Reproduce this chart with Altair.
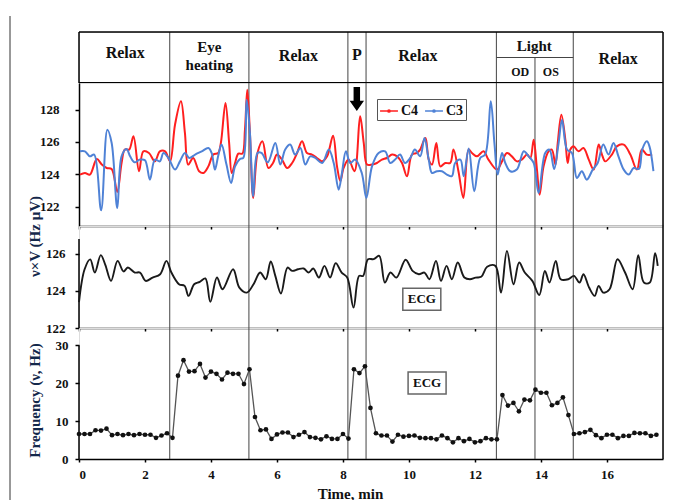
import altair as alt
import pandas as pd

FONT = "Liberation Serif"

# ---------------- data ----------------
c4_t = [0.03, 0.18, 0.33, 0.54, 0.69, 0.84, 0.99, 1.16, 1.29, 1.39, 1.52, 1.65, 1.82, 1.95, 2.12, 2.30, 2.45, 2.61,
        2.76, 2.91, 3.09, 3.21, 3.31, 3.46, 3.64, 3.77, 3.92, 4.07, 4.22, 4.30, 4.44, 4.55, 4.63, 4.73, 4.83, 4.95,
        5.03, 5.10, 5.18, 5.28, 5.41, 5.56, 5.74, 5.88, 6.00, 6.15, 6.31, 6.46, 6.61, 6.76, 6.91, 7.06, 7.21, 7.37,
        7.52, 7.70, 7.82, 7.92, 8.02, 8.17, 8.35, 8.52, 8.63, 8.73, 8.88, 9.03, 9.18, 9.33, 9.49, 9.64, 9.79, 9.94,
        10.09, 10.24, 10.34, 10.50, 10.60, 10.70, 10.83, 10.95, 11.10, 11.25, 11.35, 11.50, 11.65, 11.81, 11.91,
        12.06, 12.26, 12.41, 12.67, 12.82, 12.97, 13.12, 13.27, 13.42, 13.58, 13.68, 13.78, 13.88, 13.96, 14.08,
        14.23, 14.33, 14.44, 14.51, 14.62, 14.74, 14.81, 14.89, 14.99, 15.14, 15.29, 15.45, 15.60, 15.75, 15.85,
        15.95, 16.15, 16.30, 16.51, 16.71, 16.91, 17.06, 17.21, 17.37]
c4_v = [123.98, 124.08, 123.98, 124.95, 124.6, 124.39, 124.33, 122.91, 124.7, 125.53, 125.53, 126.35, 124.19, 125.42,
        125.32, 124.8, 125.42, 125.42, 124.8, 127.07, 128.52, 126.56, 124.6, 125.01, 124.19, 124.08, 124.49, 125.22,
        125.32, 125.94, 128.41, 125.94, 124.08, 124.7, 125.28, 125.28, 126.76, 129.24, 126.56, 122.54, 125.32,
        126.04, 124.39, 124.7, 125.22, 124.91, 124.39, 124.7, 125.32, 126.04, 125.32, 125.22, 125.01, 124.8, 125.11,
        126.39, 124.49, 123.57, 124.39, 124.91, 124.19, 127.59, 125.94, 124.6, 124.6, 124.7, 124.91, 125.01, 125.22,
        125.11, 124.7, 123.88, 125.22, 125.32, 125.53, 126.25, 124.91, 124.6, 125.94, 124.49, 124.7, 124.7, 125.53,
        124.19, 122.54, 125.53, 125.32, 125.11, 125.42, 124.91, 124.29, 124.8, 125.32, 125.11, 124.8, 124.91,
        125.22, 125.01, 126.14, 124.29, 122.74, 124.49, 125.42, 125.53, 124.6, 125.94, 127.69, 126.14, 124.7,
        125.53, 125.73, 125.42, 125.63, 124.91, 124.29, 125.84, 125.22, 124.8, 125.22, 125.73, 125.84, 125.22,
        124.29, 125.53, 125.22, 125.22]

c3_t = [0.03, 0.18, 0.33, 0.46, 0.67, 0.86, 0.99, 1.16, 1.29, 1.44, 1.55, 1.68, 1.85, 2.00, 2.15, 2.30, 2.45, 2.56,
        2.71, 2.91, 3.06, 3.21, 3.34, 3.52, 3.72, 3.92, 4.02, 4.12, 4.22, 4.32, 4.47, 4.61, 4.73, 4.88, 4.98, 5.08,
        5.18, 5.28, 5.41, 5.53, 5.72, 5.95, 6.10, 6.25, 6.40, 6.55, 6.71, 6.86, 7.01, 7.16, 7.37, 7.57, 7.72, 7.87,
        7.97, 8.09, 8.22, 8.37, 8.57, 8.71, 8.88, 9.08, 9.28, 9.43, 9.58, 9.73, 9.88, 10.04, 10.18, 10.34, 10.47,
        10.60, 10.70, 10.85, 11.00, 11.15, 11.30, 11.40, 11.56, 11.66, 11.81, 11.98, 12.16, 12.31, 12.48, 12.59,
        12.69, 12.82, 12.92, 13.07, 13.27, 13.48, 13.63, 13.78, 13.93, 14.13, 14.26, 14.40, 14.53, 14.64, 14.79,
        14.94, 15.09, 15.24, 15.39, 15.57, 15.72, 15.89, 16.05, 16.20, 16.35, 16.51, 16.66, 16.81, 16.97, 17.07,
        17.21, 17.29, 17.41]
c3_v = [125.42, 125.42, 125.11, 125.22, 121.77, 126.76, 125.94, 121.92, 125.11, 125.57, 125.11, 124.74, 124.91,
        124.87, 123.67, 124.91, 124.8, 125.32, 125.01, 124.29, 124.8, 125.32, 125.01, 125.22, 125.42, 125.63, 125.32,
        124.29, 125.15, 125.84, 124.6, 123.46, 124.49, 124.95, 125.01, 128.62, 126.56, 122.64, 125.32, 125.32,
        124.74, 125.94, 124.6, 125.53, 125.84, 125.22, 125.63, 124.6, 125.11, 125.01, 124.7, 125.53, 124.7, 123.05,
        124.08, 125.42, 124.7, 124.91, 124.08, 122.54, 124.49, 125.32, 125.42, 124.7, 124.91, 125.22, 124.7, 125.01,
        125.53, 125.11, 126.25, 124.91, 124.08, 124.19, 124.19, 123.98, 123.88, 124.7, 124.91, 123.88, 125.6,
        122.95, 125.01, 125.22, 128.52, 125.94, 123.98, 125.32, 124.7, 124.19, 124.29, 125.42, 125.11, 124.7,
        122.85, 125.32, 125.53, 124.33, 125.84, 127.38, 125.53, 125.32, 123.77, 124.19, 123.67, 124.29, 124.7,
        125.84, 125.22, 125.94, 125.11, 124.29, 123.98, 124.39, 124.33, 125.53, 126.04, 125.73, 124.19]

ecg_t = [0.0, 0.17, 0.34, 0.48, 0.66, 0.80, 0.97, 1.17, 1.35, 1.48, 1.69, 1.85, 2.02, 2.23, 2.46, 2.65, 2.80, 3.03,
         3.20, 3.32, 3.49, 3.66, 3.83, 3.98, 4.18, 4.35, 4.67, 4.86, 5.09, 5.29, 5.49, 5.66, 5.81, 5.95, 6.12, 6.32,
         6.46, 6.64, 6.81, 6.96, 7.10, 7.27, 7.44, 7.61, 7.78, 7.96, 8.13, 8.32, 8.49, 8.61, 8.76, 8.93, 9.10, 9.27,
         9.44, 9.62, 9.90, 10.11, 10.30, 10.47, 10.62, 10.82, 10.97, 11.14, 11.30, 11.48, 11.68, 11.85, 12.02,
         12.19, 12.37, 12.62, 12.79, 12.97, 13.17, 13.34, 13.51, 13.74, 13.95, 14.12, 14.26, 14.45, 14.60, 14.83,
         15.00, 15.17, 15.29, 15.46, 15.63, 15.75, 15.89, 16.08, 16.32, 16.55, 16.78, 16.95, 17.12, 17.30, 17.46,
         17.54]
ecg_v = [123.4, 125.17, 125.7, 124.99, 125.93, 125.39, 124.54, 125.62, 125.05, 125.26, 124.99, 124.99, 124.54,
         124.72, 124.9, 125.62, 124.99, 124.36, 124.27, 123.73, 124.36, 124.49, 124.67, 123.41, 124.72, 124.09,
         125.17, 124.18, 123.91, 124.36, 124.99, 124.63, 125.59, 124.81, 123.86, 125.26, 125.08, 125.17, 125.21,
         124.99, 125.21, 124.72, 125.35, 124.72, 125.5, 124.99, 124.72, 123.1, 124.81, 124.81, 125.71, 125.71,
         125.89, 124.45, 124.99, 124.72, 125.68, 125.08, 124.9, 124.99, 124.63, 125.62, 124.54, 125.35, 124.63,
         125.53, 124.72, 124.63, 124.72, 124.76, 125.3, 125.35, 123.91, 126.16, 124.36, 125.53, 124.99, 124.54,
         123.78, 125.08, 124.45, 125.62, 124.63, 124.63, 124.81, 124.45, 124.9, 124.18, 123.73, 124.27, 123.91,
         124.09, 125.71, 124.99, 124.09, 125.93, 124.45, 124.45, 126.04, 125.35]

# frequency sampled every 10 s (1/6 min)
freq_v = [6.6, 6.6, 6.6, 7.6, 7.5, 8.0, 6.3, 6.6, 6.3, 6.6, 6.3, 6.6, 6.4, 6.4, 5.6, 6.2, 6.8, 5.6,
          22.0, 26.1, 23.1, 23.2, 25.1, 21.5, 23.1, 22.5, 21.0, 22.8, 22.5, 22.5, 19.8, 23.7,
          11.1, 7.6, 7.8, 5.3, 6.5, 7.0, 7.0, 5.8, 6.4, 7.1, 5.8, 5.6, 5.2, 6.0, 5.3, 5.3, 6.6, 5.4,
          23.7, 22.7, 24.5, 13.5,
          6.8, 6.2, 6.2, 4.6, 6.4, 5.9, 6.1, 6.2, 5.6, 5.5, 5.5, 5.2, 6.2, 5.5, 4.4, 5.5, 4.7, 5.3, 4.4,
          4.7, 5.5, 5.2, 5.2,
          16.9, 14.1, 14.8, 12.6, 15.7, 15.5, 18.3, 17.5, 17.5, 14.2, 14.8, 16.3, 11.6,
          6.6, 6.8, 7.1, 7.7, 6.3, 5.5, 6.4, 6.4, 5.5, 6.1, 6.1, 6.9, 6.8, 6.8, 6.1, 6.4]
freq_step = 1 / 6

phase_bounds = [2.75, 5.15, 8.15, 8.7, 12.65, 13.82, 14.98]
header_bounds = [2.75, 5.15, 8.15, 8.7, 12.65, 14.98]
sub_bound = [13.82]
light_span = [12.65, 14.98]
header_text = ["Relax", "Eye", "heating", "Relax", "P", "Relax", "Light", "OD", "OS", "Relax"]
header_x = [1.4, 3.95, 3.95, 6.65, 8.42, 10.27, 13.8, 13.37, 14.3, 16.34]
header_y = [1.16, 1.42, 0.7, 1.06, 1.1, 1.06, 1.45, 0.43, 0.43, 0.93]
header_size = [16, 15, 15, 16, 16, 16, 15, 12, 12, 16]

arrow_t = [8.42]
arrow_v = [128.66]
ecg_label_mid = (10.39, 123.55)
ecg_label_frq = (10.55, 20.1)

x_ticks = [0, 2, 4, 6, 8, 10, 12, 14, 16]
top_ticks = [122, 124, 126, 128]
mid_ticks = [122, 124, 126]
frq_ticks = [0, 10, 20, 30]

X_MAX = 17.7
TOP_DOM = [120.8, 129.65]
MID_DOM = [122, 127.5]
MID_AXIS_TOP = 126.8
FRQ_DOM = [0, 34.6]
FRQ_AXIS_TOP = 30

W = 584
H_HDR, H_TOP, H_MID, H_FRQ = 51, 143, 102, 131

# ---------------- tables ----------------
df_lines = pd.concat([
    pd.DataFrame({"t": c4_t, "v": c4_v, "series": "C4"}),
    pd.DataFrame({"t": c3_t, "v": c3_v, "series": "C3"}),
])
df_ecg = pd.DataFrame({"t": ecg_t, "v": ecg_v})
df_frq = pd.DataFrame({"t": [i * freq_step for i in range(len(freq_v))], "v": freq_v})

xscale = alt.Scale(domain=[0, X_MAX], nice=False, zero=False)


def x_axis(labels):
    if labels:
        return alt.Axis(values=x_ticks, title="Time, min", grid=False, domainColor="black", domainWidth=1.5,
                        tickColor="black", tickWidth=1.5, tickSize=3, labelFont=FONT, labelFontWeight="bold",
                        labelFontSize=13, labelColor="#111", labelPadding=6, titleFont=FONT, titleFontSize=15,
                        titleFontWeight="bold", titleColor="#111", titleX=271, titleY=27, titleAlign="center")
    return alt.Axis(values=x_ticks, title=None, labels=False, grid=False, domainColor="black", domainWidth=1.5,
                    tickColor="black", tickWidth=1.5, tickSize=3)


def y_axis(values, title, pad, domain, title_y):
    kw = dict(values=values, grid=False, domain=domain, tickColor="black", tickWidth=1.5, tickSize=4,
              labelFont=FONT, labelFontWeight="bold", labelFontSize=13, labelColor="#111", labelPadding=pad)
    if domain:
        kw.update(domainColor="black", domainWidth=1.5)
    if title:
        kw.update(title=title, titleFont=FONT, titleFontSize=15, titleFontWeight="bold", titleColor="#14284b",
                  titleX=-45, titleY=title_y, titleBaseline="middle", titleAlign="center", titleAngle=-90)
    else:
        kw.update(title=None)
    return alt.Axis(**kw)


def vrules(bounds, y0, y1, xa, ya, ysc, color="#444", width=1.0):
    d = pd.DataFrame({"t": bounds, "y0": y0, "y1": y1})
    return alt.Chart(d).mark_rule(color=color, strokeWidth=width).encode(
        x=alt.X("t:Q", scale=xscale, axis=xa),
        y=alt.Y("y0:Q", scale=ysc, axis=ya), y2="y1:Q")


def label_box(pos, xa, ya, ysc):
    d = pd.DataFrame({"t": [pos[0]], "v": [pos[1]], "txt": ["ECG"]})
    box = alt.Chart(d).mark_point(shape="M-1,-0.58L1,-0.58L1,0.58L-1,0.58Z", size=1444, filled=True,
                                  fill="white", stroke="#666", strokeWidth=1.5, opacity=1).encode(
        x=alt.X("t:Q", scale=xscale, axis=xa), y=alt.Y("v:Q", scale=ysc, axis=ya))
    txt = alt.Chart(d).mark_text(font=FONT, fontWeight="bold", fontSize=13, color="#111").encode(
        x=alt.X("t:Q", scale=xscale, axis=xa), y=alt.Y("v:Q", scale=ysc, axis=ya), text="txt:N")
    return box + txt


# ---------------- header ----------------
hsc = alt.Scale(domain=[0, 2], nice=False, zero=False)
hx = None
hdr_layers = [
    vrules(header_bounds, 0, 2, hx, None, hsc),
    vrules(sub_bound, 0, 1, hx, None, hsc),
    alt.Chart(pd.DataFrame({"t": [light_span[0]], "t2": [light_span[1]], "y": [1]})).mark_rule(
        color="#444", strokeWidth=1).encode(x=alt.X("t:Q", scale=xscale, axis=None), x2="t2:Q",
                                             y=alt.Y("y:Q", scale=hsc, axis=None)),
    alt.Chart(pd.DataFrame({"t": [0, 0], "t2": [X_MAX, X_MAX], "y": [2, 0], "w": [1.5, 2.2]})).mark_rule(
        color="black").encode(x=alt.X("t:Q", scale=xscale, axis=None), x2="t2:Q",
                              y=alt.Y("y:Q", scale=hsc, axis=None),
                              strokeWidth=alt.StrokeWidth("w:Q", scale=None)),
    vrules([0, X_MAX], 0, 2, hx, None, hsc, color="black", width=1.5),
    alt.Chart(pd.DataFrame({"t": header_x, "y": header_y, "txt": header_text, "s": header_size})).mark_text(
        font=FONT, fontWeight="bold", color="#111").encode(
        x=alt.X("t:Q", scale=xscale, axis=None), y=alt.Y("y:Q", scale=hsc, axis=None), text="txt:N",
        size=alt.Size("s:Q", scale=None)),
    alt.Chart(pd.DataFrame({"a": [0]})).mark_rule(color="#333", strokeWidth=1).encode(
        x=alt.value(-69), y=alt.value(-16), y2=alt.value(470)),
]
header = alt.layer(*hdr_layers).properties(width=W, height=H_HDR)

# ---------------- top panel (C4, C3) ----------------
tsc = alt.Scale(domain=TOP_DOM, nice=False, zero=False)
txa = x_axis(False)
tya = y_axis(top_ticks, "ν×V (Hz μV)", 16, True, 153)
top_layers = [
    vrules(phase_bounds, TOP_DOM[0], TOP_DOM[1], txa, tya, tsc),
    vrules([X_MAX], TOP_DOM[0], TOP_DOM[1], txa, tya, tsc, color="black", width=1.5),
    alt.Chart(df_lines).mark_line(interpolate="catmull-rom", strokeWidth=2).encode(
        x=alt.X("t:Q", scale=xscale, axis=txa), y=alt.Y("v:Q", scale=tsc, axis=tya),
        color=alt.Color("series:N", scale=alt.Scale(domain=["C4", "C3"], range=["#ff1f1f", "#4f82d6"]),
                        legend=alt.Legend(orient="none", legendX=298, legendY=16, direction="horizontal",
                                          title=None, symbolType="M-1,0L1,0M-0.12,0A0.12,0.12,0,1,1,0.12,0A0.12,0.12,0,1,1,-0.12,0",
                                          symbolSize=320, symbolStrokeWidth=1.6, labelFont=FONT, labelFontSize=14,
                                          labelFontWeight="bold", labelColor="#111", strokeColor="#555",
                                          fillColor="white", padding=2, columnPadding=2, labelOffset=2)),
        detail="series:N"),
    alt.Chart(pd.DataFrame({"t": arrow_t, "v": arrow_v})).mark_point(
        shape="M-0.27,-1L0.27,-1L0.27,0.15L0.6,0.15L0,1L-0.6,0.15L-0.27,0.15Z", size=576, filled=True,
        color="black", opacity=1).encode(x=alt.X("t:Q", scale=xscale, axis=txa), y=alt.Y("v:Q", scale=tsc, axis=tya)),
]
top = alt.layer(*top_layers).properties(width=W, height=H_TOP)

# ---------------- middle panel (ECG) ----------------
msc = alt.Scale(domain=MID_DOM, nice=False, zero=False)
mxa = x_axis(False)
mya = y_axis(mid_ticks, None, 10, False, 0)
mid_layers = [
    vrules(phase_bounds, MID_DOM[0], MID_DOM[1], mxa, mya, msc),
    vrules([X_MAX], MID_DOM[0], MID_DOM[1], mxa, mya, msc, color="black", width=1.5),
    vrules([0], MID_DOM[0], MID_AXIS_TOP, mxa, mya, msc, color="black", width=1.5),
    alt.Chart(df_ecg).mark_line(interpolate="catmull-rom", strokeWidth=1.9, color="#1a1a1a").encode(
        x=alt.X("t:Q", scale=xscale, axis=mxa), y=alt.Y("v:Q", scale=msc, axis=mya)),
    label_box(ecg_label_mid, mxa, mya, msc),
]
mid = alt.layer(*mid_layers).properties(width=W, height=H_MID)

# ---------------- bottom panel (frequency) ----------------
fsc = alt.Scale(domain=FRQ_DOM, nice=False, zero=False)
fxa = x_axis(True)
fya = y_axis(frq_ticks, "Frequency (ν, Hz)", 7, False, 72)
frq_layers = [
    vrules(phase_bounds, FRQ_DOM[0], FRQ_DOM[1], fxa, fya, fsc),
    vrules([X_MAX], FRQ_DOM[0], FRQ_DOM[1], fxa, fya, fsc, color="black", width=1.5),
    vrules([0], FRQ_DOM[0], FRQ_AXIS_TOP, fxa, fya, fsc, color="black", width=1.5),
    alt.Chart(df_frq).mark_line(color="#555", strokeWidth=1.3).encode(
        x=alt.X("t:Q", scale=xscale, axis=fxa), y=alt.Y("v:Q", scale=fsc, axis=fya)),
    alt.Chart(df_frq).mark_point(filled=True, color="#111", size=22, opacity=1).encode(
        x=alt.X("t:Q", scale=xscale, axis=fxa), y=alt.Y("v:Q", scale=fsc, axis=fya)),
    label_box(ecg_label_frq, fxa, fya, fsc),
]
frq = alt.layer(*frq_layers).properties(width=W, height=H_FRQ)

chart = alt.vconcat(header, top, mid, frq, spacing=0, bounds="flush").resolve_scale(
    color="independent").properties(
    padding={"left": 1, "top": 7, "right": 5, "bottom": 0}
).configure_view(stroke="transparent").configure(background="white")

chart.save("out.html", embed_options={"renderer": "svg", "actions": False})
